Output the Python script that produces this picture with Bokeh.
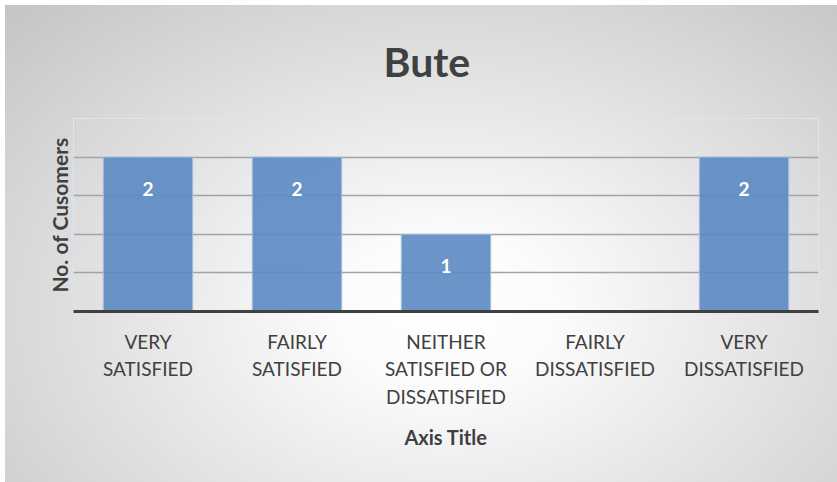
from bokeh.plotting import figure
from bokeh.models import ColumnDataSource, FixedTicker, Title, Range1d
from bokeh.core.properties import value
from bokeh.embed import file_html
from bokeh.resources import INLINE

categories = ["VERY\nSATISFIED", "FAIRLY\nSATISFIED", "NEITHER\nSATISFIED OR\nDISSATISFIED",
              "FAIRLY\nDISSATISFIED", "VERY\nDISSATISFIED"]
counts = [2, 2, 1, 0, 2]
grid_ticks = [0, 0.5, 1, 1.5, 2, 2.5]

src = ColumnDataSource(dict(cat=categories, n=counts))
lab_cats = [c for c, n in zip(categories, counts) if n > 0]
lab_vals = [n for n in counts if n > 0]
lab_src = ColumnDataSource(dict(cat=lab_cats, n=lab_vals, lab=[str(v) for v in lab_vals]))

FONT = "Lato"
TXT = "#404040"

p = figure(x_range=categories, y_range=Range1d(0, 2.5), width=837, height=482,
           output_backend="svg", toolbar_location=None, title=None,
           min_border_left=73, min_border_right=19, min_border_top=118, min_border_bottom=171)

p.styles = {"background": "radial-gradient(ellipse farthest-corner at 53% 64%, #ffffff 0%, #fbfbfb 18%, #c4c4c4 100%) 5px 5px / 832px 477px no-repeat, #ffffff"}
p.border_fill_color = None
p.background_fill_color = None
p.outline_line_color = "#dfe5ee"
p.outline_line_width = 1

p.vbar(x="cat", top="n", width=0.6, source=src, fill_color="#5b8ac3", fill_alpha=0.9,
       line_color="#a6bedd", line_width=1)
p.text(x="cat", y="n", text="lab", source=lab_src, text_color="white",
       text_font=value(FONT), text_font_style="bold", text_font_size="19px",
       text_align="center", text_baseline="middle", y_offset=32)

t = Title(text="Bute", align="left", offset=310, text_font=FONT, text_font_size="41px",
          text_font_style="bold", text_color=TXT, standoff=66)
p.add_layout(t, "above")

p.ygrid.ticker = FixedTicker(ticks=grid_ticks)
p.ygrid.grid_line_color = "#a3a3a3"
p.ygrid.grid_line_width = 1.5
p.xgrid.grid_line_color = None
p.yaxis.ticker = FixedTicker(ticks=[])
p.yaxis.major_tick_line_color = None
p.yaxis.minor_tick_line_color = None
p.yaxis.axis_line_color = None
p.yaxis.axis_label = "No. of Cusomers"
p.yaxis.axis_label_text_font = FONT
p.yaxis.axis_label_text_font_style = "bold"
p.yaxis.axis_label_text_font_size = "21px"
p.yaxis.axis_label_text_color = TXT
p.yaxis.axis_label_standoff = 2

p.xaxis.axis_line_color = "#404040"
p.xaxis.axis_line_width = 3
p.xaxis.major_tick_line_color = None
p.xaxis.minor_tick_line_color = None
p.xaxis.major_label_text_font = FONT
p.xaxis.major_label_text_font_size = "19px"
p.xaxis.major_label_text_line_height = 1.2
p.xaxis.major_label_text_color = TXT
p.xaxis.major_label_standoff = 12
p.xaxis.axis_label = "Axis Title"
p.xaxis.axis_label_text_font = FONT
p.xaxis.axis_label_text_font_style = "bold"
p.xaxis.axis_label_text_font_size = "20px"
p.xaxis.axis_label_text_color = TXT
p.xaxis.axis_label_standoff = 14

open("out.html", "w").write(file_html(p, INLINE))
